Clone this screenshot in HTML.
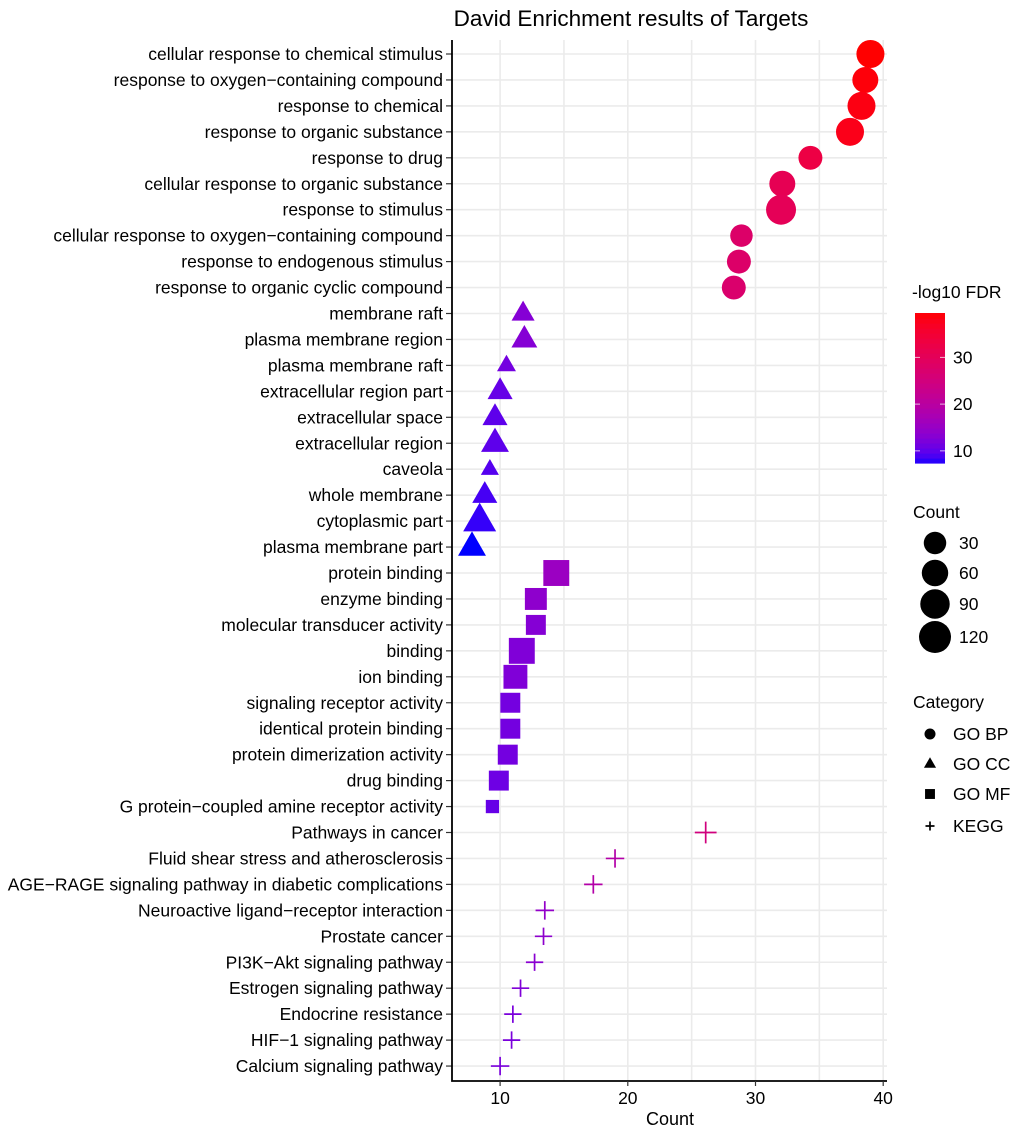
<!DOCTYPE html>
<html><head><meta charset="utf-8">
<style>
html,body{margin:0;padding:0;background:#fff;}
svg text{font-family:"Liberation Sans",Arial,sans-serif;}
</style></head>
<body>
<svg id="chart" width="1020" height="1133" viewBox="0 0 1020 1133" xmlns="http://www.w3.org/2000/svg">
<text x="631" y="26" font-size="22.5" text-anchor="middle" fill="#000">David Enrichment results of Targets</text>
<g id="grid"></g>
<g id="marks"></g>
<g id="axes"></g>
<g id="legend"></g>
</svg>
<script>
const terms = ["cellular response to chemical stimulus","response to oxygen\u2212containing compound","response to chemical","response to organic substance","response to drug","cellular response to organic substance","response to stimulus","cellular response to oxygen\u2212containing compound","response to endogenous stimulus","response to organic cyclic compound",
"membrane raft","plasma membrane region","plasma membrane raft","extracellular region part","extracellular space","extracellular region","caveola","whole membrane","cytoplasmic part","plasma membrane part",
"protein binding","enzyme binding","molecular transducer activity","binding","ion binding","signaling receptor activity","identical protein binding","protein dimerization activity","drug binding","G protein\u2212coupled amine receptor activity",
"Pathways in cancer","Fluid shear stress and atherosclerosis","AGE\u2212RAGE signaling pathway in diabetic complications","Neuroactive ligand\u2212receptor interaction","Prostate cancer","PI3K\u2212Akt signaling pathway","Estrogen signaling pathway","Endocrine resistance","HIF\u22121 signaling pathway","Calcium signaling pathway"];
const categories = ["BP","BP","BP","BP","BP","BP","BP","BP","BP","BP","CC","CC","CC","CC","CC","CC","CC","CC","CC","CC","MF","MF","MF","MF","MF","MF","MF","MF","MF","MF","KEGG","KEGG","KEGG","KEGG","KEGG","KEGG","KEGG","KEGG","KEGG","KEGG"];
const counts = [39.0,38.6,38.3,37.4,34.3,32.1,32.0,28.9,28.7,28.3, 11.8,11.9,10.5,10.0,9.6,9.6,9.2,8.8,8.4,7.8, 14.4,12.8,12.8,11.7,11.2,10.8,10.8,10.6,9.9,9.4, 26.1,19.0,17.3,13.5,13.4,12.7,11.6,11.0,10.9,10.0];
const sizes = [75,56,75,75,40,56,96,30,40,40, 21,37,6,32,32,51,4,32,96,51, 83,43,28,83,61,28,28,28,28,1, 61,30,30,30,22,22,22,22,22,30];
const fdr = [39.5,39,38.5,38,33,31,30.5,28,28,27.5, 13,13,11.5,10.5,10,10,9.5,8.8,8.2,7.4, 15.5,14,13,12.5,12.5,11.5,11.5,11.5,11,10.5, 25,19,19,14.5,14,13.5,12.5,12,12,12];
const xTicks = [10,20,30,40];
const cbTicks = [10,20,30];
const sizeLegend = [30,60,90,120];
const catLegend = [["BP","GO BP"],["CC","GO CC"],["MF","GO MF"],["KEGG","KEGG"]];

const NS="http://www.w3.org/2000/svg";
function mk(tag,attrs,parent){const e=document.createElementNS(NS,tag);for(const k in attrs)e.setAttribute(k,attrs[k]);parent.appendChild(e);return e;}
const X0=452,X1=887,Y0=40,Y1=1081;
const xs=v=>372.4+(v)*12.77;
const ys=i=>54+i*25.95;
const rs=v=>6.5+9.5*Math.sqrt(Math.max(v,0)/120);
const FMIN=7.4,FMAX=39.5;
function toLin(c){c/=255;return c<=0.04045?c/12.92:Math.pow((c+0.055)/1.055,2.4);}
function fromLin(c){c=c<=0.0031308?12.92*c:1.055*Math.pow(c,1/2.4)-0.055;return Math.round(Math.max(0,Math.min(1,c))*255);}
function rgb2lab(r,g,b){r=toLin(r);g=toLin(g);b=toLin(b);let x=(r*0.4124+g*0.3576+b*0.1805)/0.95047,y=r*0.2126+g*0.7152+b*0.0722,z=(r*0.0193+g*0.1192+b*0.9505)/1.08883;const f=t=>t>0.008856?Math.cbrt(t):7.787*t+16/116;x=f(x);y=f(y);z=f(z);return[116*y-16,500*(x-y),200*(y-z)];}
function lab2rgb(L,a,b){let y=(L+16)/116,x=a/500+y,z=y-b/200;const fi=t=>t*t*t>0.008856?t*t*t:(t-16/116)/7.787;x=fi(x)*0.95047;y=fi(y);z=fi(z)*1.08883;const r=x*3.2406+y*-1.5372+z*-0.4986,g=x*-0.9689+y*1.8758+z*0.0415,bb=x*0.0557+y*-0.2040+z*1.0570;return`rgb(${fromLin(r)},${fromLin(g)},${fromLin(bb)})`;}
const LB=rgb2lab(0,0,255),LR=rgb2lab(255,0,0);
function col(v){const t=Math.max(0,Math.min(1,(v-FMIN)/(FMAX-FMIN)));return lab2rgb(LB[0]+(LR[0]-LB[0])*t,LB[1]+(LR[1]-LB[1])*t,LB[2]+(LR[2]-LB[2])*t);}

const grid=document.getElementById('grid'),marks=document.getElementById('marks'),axes=document.getElementById('axes'),legend=document.getElementById('legend');
for(let v=10;v<=40;v+=5){const l=mk('line',{x1:xs(v),x2:xs(v),y1:Y0,y2:Y1,stroke:'#ebebeb','stroke-width':1.6},grid);

}
terms.forEach((t,i)=>{const l=mk('line',{x1:X0,x2:X1,y1:ys(i),y2:ys(i),stroke:'#ebebeb','stroke-width':1.6},grid);

});

function shape(cat,cx,cy,r,fill,parent){
  let e;
  if(cat==="BP"){e=mk('circle',{cx:cx,cy:cy,r:r,fill:fill},parent);}
  else if(cat==="CC"){const h=r*1.1;e=mk('polygon',{points:`${cx-h},${cy+h*0.62} ${cx+h},${cy+h*0.62} ${cx},${cy-h*1.12}`,fill:fill},parent);}
  else if(cat==="MF"){const h=r*0.9;e=mk('rect',{x:cx-h,y:cy-h,width:2*h,height:2*h,fill:fill},parent);}
  else {const h=r*0.82;e=mk('path',{d:`M${cx-h},${cy}H${cx+h}M${cx},${cy-h}V${cy+h}`,stroke:fill,'stroke-width':1.7,fill:'none'},parent);}
  return e;
}
terms.forEach((t,i)=>{
  const e=shape(categories[i],xs(counts[i]),ys(i),rs(sizes[i]),col(fdr[i]),marks);
  
  
  const lab=mk('text',{x:443,y:ys(i)+6,'font-size':17.5,'text-anchor':'end',fill:'#000'},axes);lab.textContent=t;
  
  
  const tk=mk('line',{x1:446,x2:X0,y1:ys(i),y2:ys(i),stroke:'#333','stroke-width':1.2},axes);
  
  
});
const ax=mk('path',{d:`M${X0},${Y0}V${Y1}H${X1}`,stroke:'#000','stroke-width':1.8,fill:'none'},axes);


xTicks.forEach(v=>{const tk=mk('line',{x1:xs(v),x2:xs(v),y1:Y1,y2:Y1+5,stroke:'#333','stroke-width':1.2},axes);


const t=mk('text',{x:xs(v),y:Y1+23,'font-size':17.5,'text-anchor':'middle',fill:'#000'},axes);t.textContent=v;

});
const xt=mk('text',{x:670,y:1125,'font-size':18,'text-anchor':'middle',fill:'#000'},axes);xt.textContent='Count';



const CBX=915,CBW=30,CBT=313,CBB=463;
const cby=v=>CBB-(v-FMIN)/(FMAX-FMIN)*(CBB-CBT);
const lt=mk('text',{x:912,y:298,'font-size':17.5,fill:'#000'},legend);lt.textContent='-log10 FDR';


for(let k=0;k<30;k++){const y=CBB-(k+1)*(CBB-CBT)/30;const r=mk('rect',{x:CBX,y:y,width:CBW,height:(CBB-CBT)/30+0.6,fill:col(FMIN+(k+0.5)/30*(FMAX-FMIN))},legend);

}
cbTicks.forEach(v=>{const y=cby(v);
mk('line',{x1:CBX,x2:CBX+5,y1:y,y2:y,stroke:'#fff','stroke-width':1,opacity:0.7},legend);
mk('line',{x1:CBX+CBW-5,x2:CBX+CBW,y1:y,y2:y,stroke:'#fff','stroke-width':1,opacity:0.7},legend);
const t=mk('text',{x:953,y:y+6,'font-size':17.5,fill:'#000'},legend);t.textContent=v;

});
const st=mk('text',{x:913,y:518,'font-size':17.5,fill:'#000'},legend);st.textContent='Count';


const sy=[543,573,604,637];
sizeLegend.forEach((v,k)=>{const c=mk('circle',{cx:935,cy:sy[k],r:rs(v),fill:'#000'},legend);


const t=mk('text',{x:959,y:sy[k]+6,'font-size':17.5,fill:'#000'},legend);t.textContent=v;

});
const ct=mk('text',{x:913,y:708,'font-size':17.5,fill:'#000'},legend);ct.textContent='Category';


const cy=[734,764,794,826];
catLegend.forEach((c,k)=>{const e=shape(c[0],930,cy[k],5.5,'#000',legend);


const t=mk('text',{x:953,y:cy[k]+6,'font-size':17.5,fill:'#000'},legend);t.textContent=c[1];

});
</script>
</body></html>
